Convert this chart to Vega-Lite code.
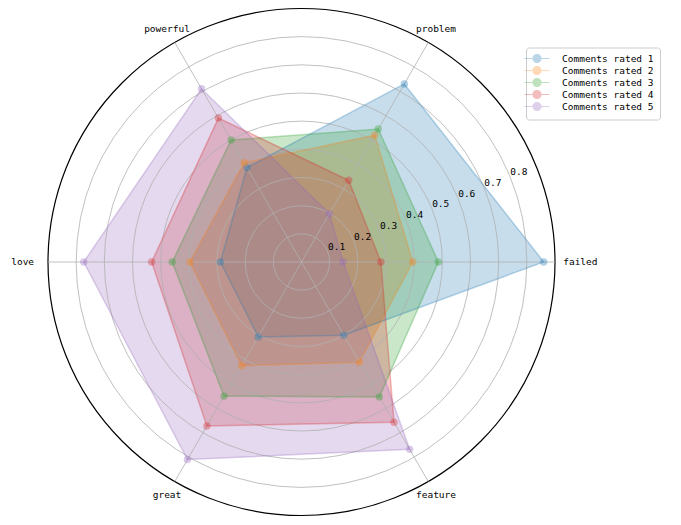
{
  "$schema": "https://vega.github.io/schema/vega-lite/v6.json",
  "width": 507,
  "height": 507,
  "autosize": {"type": "none"},
  "padding": {"left": 48, "top": 8.5, "right": 126, "bottom": 9.5},
  "background": "white",
  "config": {"view": {"stroke": null}, "font": "DejaVu Sans Mono"},
  "datasets": {
    "scores": [
      {"rating": "Comments rated 1", "attribute": "failed", "value": 0.86},
      {"rating": "Comments rated 1", "attribute": "problem", "value": 0.73},
      {"rating": "Comments rated 1", "attribute": "powerful", "value": 0.387},
      {"rating": "Comments rated 1", "attribute": "love", "value": 0.288},
      {"rating": "Comments rated 1", "attribute": "great", "value": 0.307},
      {"rating": "Comments rated 1", "attribute": "feature", "value": 0.30},
      {"rating": "Comments rated 2", "attribute": "failed", "value": 0.395},
      {"rating": "Comments rated 2", "attribute": "problem", "value": 0.52},
      {"rating": "Comments rated 2", "attribute": "powerful", "value": 0.407},
      {"rating": "Comments rated 2", "attribute": "love", "value": 0.396},
      {"rating": "Comments rated 2", "attribute": "great", "value": 0.425},
      {"rating": "Comments rated 2", "attribute": "feature", "value": 0.411},
      {"rating": "Comments rated 3", "attribute": "failed", "value": 0.486},
      {"rating": "Comments rated 3", "attribute": "problem", "value": 0.545},
      {"rating": "Comments rated 3", "attribute": "powerful", "value": 0.50},
      {"rating": "Comments rated 3", "attribute": "love", "value": 0.459},
      {"rating": "Comments rated 3", "attribute": "great", "value": 0.55},
      {"rating": "Comments rated 3", "attribute": "feature", "value": 0.553},
      {"rating": "Comments rated 4", "attribute": "failed", "value": 0.282},
      {"rating": "Comments rated 4", "attribute": "problem", "value": 0.335},
      {"rating": "Comments rated 4", "attribute": "powerful", "value": 0.59},
      {"rating": "Comments rated 4", "attribute": "love", "value": 0.532},
      {"rating": "Comments rated 4", "attribute": "great", "value": 0.672},
      {"rating": "Comments rated 4", "attribute": "feature", "value": 0.657},
      {"rating": "Comments rated 5", "attribute": "failed", "value": 0.148},
      {"rating": "Comments rated 5", "attribute": "problem", "value": 0.198},
      {"rating": "Comments rated 5", "attribute": "powerful", "value": 0.71},
      {"rating": "Comments rated 5", "attribute": "love", "value": 0.773},
      {"rating": "Comments rated 5", "attribute": "great", "value": 0.81},
      {"rating": "Comments rated 5", "attribute": "feature", "value": 0.768}
    ],
    "axes": [
      {"attribute": "failed"},
      {"attribute": "problem"},
      {"attribute": "powerful"},
      {"attribute": "love"},
      {"attribute": "great"},
      {"attribute": "feature"}
    ],
    "rings": [
      {"r": 0.1, "label": "0.1", "kind": "grid"},
      {"r": 0.2, "label": "0.2", "kind": "grid"},
      {"r": 0.3, "label": "0.3", "kind": "grid"},
      {"r": 0.4, "label": "0.4", "kind": "grid"},
      {"r": 0.5, "label": "0.5", "kind": "grid"},
      {"r": 0.6, "label": "0.6", "kind": "grid"},
      {"r": 0.7, "label": "0.7", "kind": "grid"},
      {"r": 0.8, "label": "0.8", "kind": "grid"},
      {"r": 0.9, "label": "", "kind": "spine"}
    ]
  },
  "layer": [
    {
      "data": {"name": "scores"},
      "transform": [
        {"calculate": "indexof(['failed','problem','powerful','love','great','feature'], datum.attribute)", "as": "idx"},
        {"calculate": "datum.idx * PI / 3", "as": "ang"},
        {"calculate": "datum.value * cos(datum.ang)", "as": "px"},
        {"calculate": "datum.value * sin(datum.ang)", "as": "py"}
      ],
      "mark": {"type": "line", "interpolate": "linear-closed", "strokeOpacity": 0, "fillOpacity": 0.25},
      "encoding": {
        "x": {"field": "px", "type": "quantitative", "scale": {"domain": [-0.9, 0.9], "nice": false, "zero": false}, "axis": null},
        "y": {"field": "py", "type": "quantitative", "scale": {"domain": [-0.9, 0.9], "nice": false, "zero": false}, "axis": null},
        "fill": {"field": "rating", "type": "nominal", "scale": {"range": ["#1f77b4", "#ff7f0e", "#2ca02c", "#d62728", "#9467bd"]}, "legend": null},
        "order": {"field": "idx", "type": "quantitative"}
      }
    },
    {
      "data": {"name": "rings"},
      "mark": {"type": "point", "shape": "circle", "filled": false, "opacity": 1},
      "encoding": {
        "x": {"datum": 0, "type": "quantitative"},
        "y": {"datum": 0, "type": "quantitative"},
        "size": {"field": "r", "type": "quantitative", "scale": {"type": "pow", "exponent": 2, "domain": [0, 0.9], "range": [0, 257049], "zero": true}, "legend": null},
        "stroke": {"field": "kind", "type": "nominal", "scale": {"domain": ["grid", "spine"], "range": ["#b0b0b0", "#000000"]}, "legend": null},
        "strokeWidth": {"field": "kind", "type": "nominal", "scale": {"domain": ["grid", "spine"], "range": [0.8, 1.2]}, "legend": null}
      }
    },
    {
      "data": {"name": "axes"},
      "transform": [
        {"calculate": "indexof(['failed','problem','powerful','love','great','feature'], datum.attribute) * PI / 3", "as": "ang"},
        {"calculate": "0", "as": "zx"},
        {"calculate": "0.9 * cos(datum.ang)", "as": "ex"},
        {"calculate": "0.9 * sin(datum.ang)", "as": "ey"}
      ],
      "mark": {"type": "rule", "stroke": "#b0b0b0", "strokeWidth": 0.8},
      "encoding": {
        "x": {"field": "zx", "type": "quantitative"},
        "y": {"field": "zx", "type": "quantitative"},
        "x2": {"field": "ex"},
        "y2": {"field": "ey"}
      }
    },
    {
      "data": {"name": "scores"},
      "transform": [
        {"calculate": "indexof(['failed','problem','powerful','love','great','feature'], datum.attribute)", "as": "idx"},
        {"calculate": "datum.idx * PI / 3", "as": "ang"},
        {"calculate": "datum.value * cos(datum.ang)", "as": "px"},
        {"calculate": "datum.value * sin(datum.ang)", "as": "py"}
      ],
      "mark": {"type": "line", "interpolate": "linear-closed", "strokeWidth": 1.5, "strokeOpacity": 0.3},
      "encoding": {
        "x": {"field": "px", "type": "quantitative"},
        "y": {"field": "py", "type": "quantitative"},
        "color": {
          "field": "rating", "type": "nominal", "title": null,
          "scale": {"range": ["#1f77b4", "#ff7f0e", "#2ca02c", "#d62728", "#9467bd"]},
          "legend": {
            "orient": "none", "legendX": 478, "legendY": 39,
            "symbolType": "M-3.1,0L3.1,0M-1,0A1,1,0,1,1,1,0A1,1,0,1,1,-1,0Z",
            "symbolSize": 64, "symbolStrokeWidth": 1.2, "symbolOpacity": 0.3,
            "labelFont": "DejaVu Sans Mono", "labelFontSize": 9.5, "labelColor": "black",
            "labelOffset": 20, "rowPadding": -6.5,
            "padding": 6, "strokeColor": "#cccccc", "fillColor": "white", "cornerRadius": 3,
            "encode": {"symbols": {"update": {"fill": {"scale": "color", "field": "value"}, "stroke": {"scale": "color", "field": "value"}}}}
          }
        },
        "order": {"field": "idx", "type": "quantitative"}
      }
    },
    {
      "data": {"name": "scores"},
      "transform": [
        {"calculate": "indexof(['failed','problem','powerful','love','great','feature'], datum.attribute)", "as": "idx"},
        {"calculate": "datum.idx * PI / 3", "as": "ang"},
        {"calculate": "datum.value * cos(datum.ang)", "as": "px"},
        {"calculate": "datum.value * sin(datum.ang)", "as": "py"}
      ],
      "mark": {"type": "point", "filled": true, "size": 55, "opacity": 0.35, "shape": "circle"},
      "encoding": {
        "x": {"field": "px", "type": "quantitative"},
        "y": {"field": "py", "type": "quantitative"},
        "color": {"field": "rating", "type": "nominal"}
      }
    },
    {
      "data": {"name": "rings"},
      "transform": [
        {"filter": "datum.kind == 'grid'"},
        {"calculate": "(datum.r + 0.035) * cos(PI / 8)", "as": "lx"},
        {"calculate": "(datum.r + 0.035) * sin(PI / 8)", "as": "ly"}
      ],
      "mark": {"type": "text", "font": "DejaVu Sans Mono", "fontSize": 9.5, "color": "black", "align": "center", "baseline": "middle"},
      "encoding": {
        "x": {"field": "lx", "type": "quantitative"},
        "y": {"field": "ly", "type": "quantitative"},
        "text": {"field": "label"}
      }
    },
    {
      "data": {"name": "axes"},
      "transform": [
        {"calculate": "indexof(['failed','problem','powerful','love','great','feature'], datum.attribute) * PI / 3", "as": "ang"},
        {"calculate": "(datum.attribute == 'failed' || datum.attribute == 'love') ? 0.99 : 0.955", "as": "lr"},
        {"calculate": "datum.lr * cos(datum.ang)", "as": "lx"},
        {"calculate": "datum.lr * sin(datum.ang)", "as": "ly"}
      ],
      "mark": {"type": "text", "font": "DejaVu Sans Mono", "fontSize": 9.5, "color": "black", "align": "center", "baseline": "middle"},
      "encoding": {
        "x": {"field": "lx", "type": "quantitative"},
        "y": {"field": "ly", "type": "quantitative"},
        "text": {"field": "attribute"}
      }
    }
  ]
}
